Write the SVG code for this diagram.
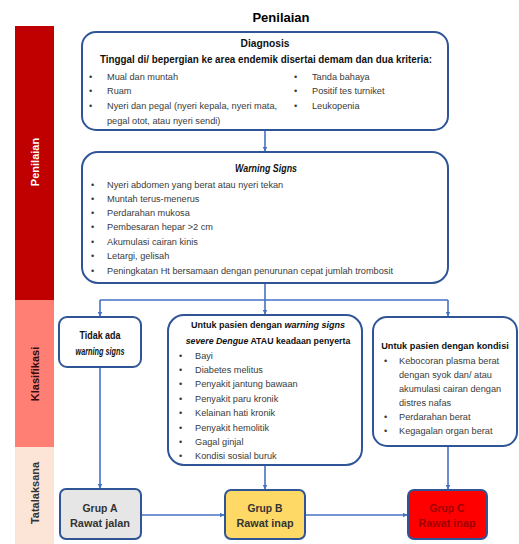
<svg xmlns="http://www.w3.org/2000/svg" width="519" height="544" viewBox="0 0 519 544">
<defs>
<style>
.box{fill:#fff;stroke:#2f5597;stroke-width:2}
.conn{fill:none;stroke:#4472c4;stroke-width:1.6}
.t{font-family:"Liberation Sans",Arial,sans-serif;fill:#000}
.h{font-family:"Liberation Sans",Arial,sans-serif;font-weight:bold;fill:#111}
.b{font-family:"Liberation Sans",Arial,sans-serif;fill:#3a3a3a;font-size:9.2px}
.side{font-family:"Liberation Sans",Arial,sans-serif;font-weight:bold;font-size:11px;text-anchor:middle}
.g{font-family:"Liberation Sans",Arial,sans-serif;font-weight:bold;font-size:11px;text-anchor:middle}
</style>
<marker id="arr" viewBox="0 0 10 10" refX="9" refY="5" markerWidth="5" markerHeight="5" orient="auto" markerUnits="userSpaceOnUse">
<path d="M0,0 L10,5 L0,10 z" fill="#4472c4"/>
</marker>
</defs>
<rect width="519" height="544" fill="#fff"/>
<text class="t" x="281" y="22" font-size="13" font-weight="bold" text-anchor="middle">Penilaian</text>

<g id="sidebar">
<rect x="15" y="26" width="39" height="274" fill="#c00000"/>
<rect x="15" y="300" width="39" height="147" fill="#ff7f75"/>
<rect x="15" y="447" width="39" height="97" fill="#fce4d6"/>
<text class="side" fill="#fff" transform="translate(38.5,162) rotate(-90)">Penilaian</text>
<text class="side" fill="#3b0a0a" transform="translate(38.5,374) rotate(-90)">Klasifikasi</text>
<text class="side" fill="#333" transform="translate(38.5,493) rotate(-90)">Tatalaksana</text>
</g>

<g id="connectors">
<path class="conn" d="M265,130 V151" marker-end="url(#arr)"/>
<path class="conn" d="M265,283 V300 M100,300 H448"/>
<path class="conn" d="M100,300 V316" marker-end="url(#arr)"/>
<path class="conn" d="M265,300 V314" marker-end="url(#arr)"/>
<path class="conn" d="M448,300 V316" marker-end="url(#arr)"/>
<path class="conn" d="M100,367 V488" marker-end="url(#arr)"/>
<path class="conn" d="M265,465 V489" marker-end="url(#arr)"/>
<path class="conn" d="M448,446 V489" marker-end="url(#arr)"/>
<path class="conn" d="M141,515 H224" marker-end="url(#arr)"/>
<path class="conn" d="M305,515 H407" marker-end="url(#arr)"/>
</g>

<g id="diagnosis">
<rect class="box" x="82" y="32" width="366" height="98" rx="14"/>
<text class="h" x="265" y="47" text-anchor="middle" font-size="10.5" textLength="49" lengthAdjust="spacingAndGlyphs">Diagnosis</text>
<text class="h" x="266" y="63" text-anchor="middle" font-size="10.5" textLength="332" lengthAdjust="spacingAndGlyphs">Tinggal di/ bepergian ke area endemik disertai demam dan dua kriteria:</text>
<g class="b">
<text x="89" y="80">•</text><text x="107" y="80">Mual dan muntah</text>
<text x="89" y="94">•</text><text x="107" y="94">Ruam</text>
<text x="89" y="109">•</text><text x="107" y="109">Nyeri dan pegal (nyeri kepala, nyeri mata,</text>
<text x="107" y="124">pegal otot, atau nyeri sendi)</text>
<text x="294" y="80">•</text><text x="312" y="80">Tanda bahaya</text>
<text x="294" y="94">•</text><text x="312" y="94">Positif tes turniket</text>
<text x="294" y="109">•</text><text x="312" y="109">Leukopenia</text>
</g>
</g>

<g id="warning-signs">
<rect class="box" x="82" y="152" width="366" height="131" rx="16"/>
<text class="h" x="266" y="172" text-anchor="middle" font-size="10.5" font-style="italic" textLength="62" lengthAdjust="spacingAndGlyphs">Warning Signs</text>
<g class="b">
<text x="91" y="188">•</text><text x="107" y="188">Nyeri abdomen yang berat atau nyeri tekan</text>
<text x="91" y="202">•</text><text x="107" y="202">Muntah terus-menerus</text>
<text x="91" y="216">•</text><text x="107" y="216">Perdarahan mukosa</text>
<text x="91" y="230">•</text><text x="107" y="230">Pembesaran hepar &gt;2 cm</text>
<text x="91" y="245">•</text><text x="107" y="245">Akumulasi cairan kinis</text>
<text x="91" y="259">•</text><text x="107" y="259">Letargi, gelisah</text>
<text x="91" y="274">•</text><text x="107" y="274">Peningkatan Ht bersamaan dengan penurunan cepat jumlah trombosit</text>
</g>
</g>

<g id="tidak-ada">
<rect class="box" x="59" y="317" width="82" height="50" rx="8"/>
<text class="h" x="100" y="339" text-anchor="middle" font-size="10" textLength="41" lengthAdjust="spacingAndGlyphs">Tidak ada</text>
<text class="h" x="100" y="355" text-anchor="middle" font-size="10" font-style="italic" textLength="49" lengthAdjust="spacingAndGlyphs">warning signs</text>
</g>

<g id="penyerta">
<rect class="box" x="168" y="315" width="194" height="150" rx="16"/>
<text class="h" x="268" y="328" font-size="9" text-anchor="middle">Untuk pasien dengan <tspan font-style="italic">warning signs</tspan></text>
<text class="h" x="268" y="344" font-size="8.8" text-anchor="middle"><tspan font-style="italic">severe Dengue</tspan> ATAU keadaan penyerta</text>
<g class="b">
<text x="179" y="359">•</text><text x="195" y="359">Bayi</text>
<text x="179" y="373">•</text><text x="195" y="373">Diabetes melitus</text>
<text x="179" y="387">•</text><text x="195" y="387">Penyakit jantung bawaan</text>
<text x="179" y="402">•</text><text x="195" y="402">Penyakit paru kronik</text>
<text x="179" y="416">•</text><text x="195" y="416">Kelainan hati kronik</text>
<text x="179" y="431">•</text><text x="195" y="431">Penyakit hemolitik</text>
<text x="179" y="445">•</text><text x="195" y="445">Gagal ginjal</text>
<text x="179" y="459">•</text><text x="195" y="459">Kondisi sosial buruk</text>
</g>
</g>

<g id="kondisi">
<rect class="box" x="373" y="317" width="144" height="129" rx="14"/>
<text class="h" x="445" y="349" text-anchor="middle" font-size="9.2">Untuk pasien dengan kondisi</text>
<g class="b">
<text x="384" y="364">•</text><text x="399" y="364">Kebocoran plasma berat</text>
<text x="399" y="378">dengan syok dan/ atau</text>
<text x="399" y="392">akumulasi cairan dengan</text>
<text x="399" y="406">distres nafas</text>
<text x="384" y="420">•</text><text x="399" y="420">Perdarahan berat</text>
<text x="384" y="434">•</text><text x="399" y="434">Kegagalan organ berat</text>
</g>
</g>

<g id="grup-a">
<rect x="60" y="489" width="81" height="50" rx="6" fill="#e7e6e6" stroke="#2f5597" stroke-width="2"/>
<text class="g" x="100" y="512" fill="#333" textLength="35" lengthAdjust="spacingAndGlyphs">Grup A</text>
<text class="g" x="100" y="527" fill="#333" textLength="60" lengthAdjust="spacingAndGlyphs">Rawat jalan</text>
</g>
<g id="grup-b">
<rect x="225" y="490" width="80" height="49" rx="6" fill="#ffd966" stroke="#2f5597" stroke-width="2"/>
<text class="g" x="265" y="512" fill="#333" textLength="35" lengthAdjust="spacingAndGlyphs">Grup B</text>
<text class="g" x="265" y="527" fill="#333" textLength="57" lengthAdjust="spacingAndGlyphs">Rawat inap</text>
</g>
<g id="grup-c">
<rect x="408" y="490" width="79" height="49" rx="6" fill="#ff0000" stroke="#2f5597" stroke-width="2"/>
<text class="g" x="447" y="512" fill="#a00000" textLength="35" lengthAdjust="spacingAndGlyphs">Grup C</text>
<text class="g" x="447" y="527" fill="#a00000" textLength="57" lengthAdjust="spacingAndGlyphs">Rawat inap</text>
</g>
</svg>
